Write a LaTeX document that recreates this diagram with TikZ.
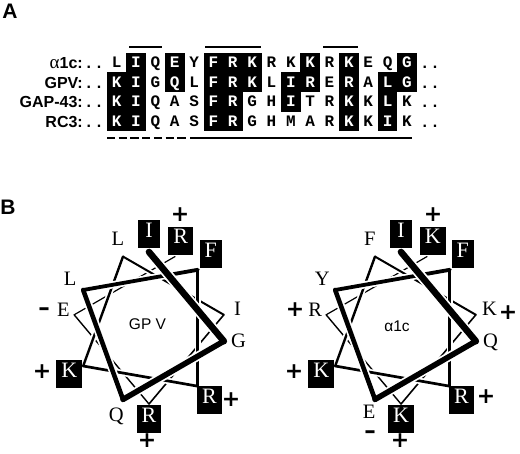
\documentclass[tikz,border=0pt]{standalone}
\usepackage{fontspec}
\setmainfont{Liberation Serif}
\setsansfont{Liberation Sans}
\setmonofont{Liberation Mono}
\newfontfamily\signfont{DejaVu Sans}
\usetikzlibrary{positioning}

\tikzset{helix/.style={line width=#1,line cap=round,
    preaction={draw=white,line width=#1+3.5pt,shorten <=6pt,shorten >=6pt}}}

\begin{document}
\begin{tikzpicture}[x=1pt,y=1pt]
\tikzstyle{panel}=[inner sep=0pt,font=\sffamily\bfseries\fontsize{21}{21}\selectfont]
\tikzstyle{seq}=[anchor=base east,inner sep=0pt,font=\sffamily\bfseries\fontsize{16}{17}\selectfont]
\tikzstyle{dots}=[anchor=base,inner sep=0pt,font=\sffamily\bfseries\fontsize{16}{16}\selectfont]
\tikzstyle{cell}=[minimum width=19.8pt,minimum height=19.8pt,inner sep=0pt,text height=10pt,text depth=0pt,font=\ttfamily\bfseries\fontsize{16}{16}\selectfont]
\tikzstyle{on}=[fill=black,text=white]
\tikzstyle{off}=[]
\tikzstyle{res}=[inner sep=0pt,text height=0.66em,text depth=0pt,font=\fontsize{20.5}{20.5}\selectfont]
\tikzstyle{resbox}=[fill=black,text=white,minimum width=22pt,minimum height=28pt,inner xsep=5pt,inner ysep=0pt,text height=0.66em,text depth=0pt,font=\fontsize{22}{22}\selectfont]
\tikzstyle{chg}=[inner sep=0pt,font=\signfont\bfseries\fontsize{22}{22}\selectfont]
\tikzstyle{neg}=[inner sep=0pt,font=\signfont\bfseries\fontsize{23}{23}\selectfont]
\tikzstyle{wname}=[font=\sffamily\fontsize{15.5}{15.5}\selectfont]
\useasboundingbox (0,0) rectangle (520,-454);

\node[panel] (pa) at (10,-11) {A};
\node[panel] (pb) at (8,-207.5) {B};

% sequence names
\node[seq] (n1) at (83,-69) {{\rmfamily\mdseries\fontsize{19}{19}\selectfont α}1c:};
\node[seq] (n2) at (83,-88.4) {GPV:};
\node[seq] (n3) at (83,-107.8) {GAP-43:};
\node[seq] (n4) at (83,-127.2) {RC3:};
\foreach \r/\y in {1/69,2/88.4,3/107.8,4/127.2} {
  \node[dots] (d\r) at (94,-\y) {. .};
  \node[dots] (e\r) at (430,-\y) {. .};
}

% alignment
\foreach \s/\t [count=\c] in {L/off,I/on,Q/off,E/on,Y/off,F/on,R/on,K/on,R/off,K/off,K/on,R/off,K/on,E/off,Q/off,G/on}
  \node[cell,\t] (r1c\c) at ({97.3+19.35*\c},-63) {\s};
\foreach \s/\t [count=\c] in {K/on,I/on,G/off,Q/on,L/off,F/on,R/on,K/on,L/off,I/on,R/on,E/off,R/on,A/off,L/on,G/on}
  \node[cell,\t] (r2c\c) at ({97.3+19.35*\c},-82.4) {\s};
\foreach \s/\t [count=\c] in {K/on,I/on,Q/off,A/off,S/off,F/on,R/on,G/off,H/off,I/on,T/off,R/off,K/on,K/off,L/on,K/off}
  \node[cell,\t] (r3c\c) at ({97.3+19.35*\c},-101.8) {\s};
\foreach \s/\t [count=\c] in {K/on,I/on,Q/off,A/off,S/off,F/on,R/on,G/off,H/off,M/off,A/off,R/off,K/on,K/off,I/on,K/off}
  \node[cell,\t] (r4c\c) at ({97.3+19.35*\c},-121.2) {\s};

% marks above and below
\draw[line width=1.6pt] (129,-47) -- (162,-47);
\draw[line width=1.6pt] (205,-47) -- (261,-47);
\draw[line width=1.6pt] (323,-47) -- (358,-47);
\draw[line width=1.6pt,dash pattern=on 8.3pt off 3.4pt] (107,-138) -- (187,-138);
\draw[line width=1.6pt] (190,-138) -- (412,-138);

% helical wheels
\coordinate (lc) at (149,-328);
\coordinate (rc) at (401,-328);
\foreach \k in {0,...,11} {
  \coordinate (lv\k) at ([shift={(90-100*\k:76)}]lc);
  \coordinate (rv\k) at ([shift={(90-100*\k:76)}]rc);
}
\foreach \k/\w in {10/1.2,9/1.4,8/1.6,7/2.0,6/2.4,5/2.7,4/3.0,3/3.8,2/4.6,1/5.6,0/6.6} {
  \pgfmathtruncatemacro\n{\k+1}
  \draw[helix=\w pt] (lv\k) -- (lv\n);
  \draw[helix=\w pt] (rv\k) -- (rv\n);
}

% GP V
\node[wname] (lname) at (147.5,-324) {GP V};
\node[resbox] (l0) at ([shift={(90:94)}]lc) {I};
\node[res] (l1) at ([shift={(-10:91)}]lc) {G};
\node[res] (l2) at ([shift={(-110:96)}]lc) {Q};
\node[res] (l3) at ([shift={(150:91)}]lc) {L};
\node[resbox] (l4) at ([shift={(50:96)}]lc) {F};
\node[resbox] (l5) at ([shift={(-50:94)}]lc) {R};
\node[resbox] (l6) at ([shift={(210:92)}]lc) {K};
\node[res] (l7) at ([shift={(110:91)}]lc) {L};
\node[res] (l8) at ([shift={(10:90)}]lc) {I};
\node[resbox] (l9) at ([shift={(-90:91)}]lc) {R};
\node[res] (l10) at ([shift={(170:87)}]lc) {E};
\node[resbox] (l11) at ([shift={(70:93)}]lc) {R};
\node[chg] (lp1) at (180,-215) {+};
\node[chg] (lp2) at (231,-400) {+};
\node[chg] (lp3) at (147,-441) {+};
\node[chg] (lp4) at (42,-372) {+};
\node[neg] (lm1) at (44,-312) {–};

% alpha1c
\node[wname] (rname) at (397,-326) {α1c};
\node[resbox] (r0) at ([shift={(90:94)}]rc) {I};
\node[res] (r1) at ([shift={(-10:91)}]rc) {Q};
\node[res] (r2) at ([shift={(-110:93)}]rc) {E};
\node[res] (r3) at ([shift={(150:91)}]rc) {Y};
\node[resbox] (r4) at ([shift={(50:96)}]rc) {F};
\node[resbox] (r5) at ([shift={(-50:94)}]rc) {R};
\node[resbox] (r6) at ([shift={(210:92)}]rc) {K};
\node[res] (r7) at ([shift={(110:91)}]rc) {F};
\node[res] (r8) at ([shift={(10:90)}]rc) {K};
\node[resbox] (r9) at ([shift={(-90:91)}]rc) {K};
\node[res] (r10) at ([shift={(170:87)}]rc) {R};
\node[resbox] (r11) at ([shift={(70:93)}]rc) {K};
\node[chg] (rp1) at (433,-215) {+};
\node[chg] (rp2) at (508,-313) {+};
\node[chg] (rp3) at (486,-397) {+};
\node[chg] (rp4) at (400,-441) {+};
\node[chg] (rp5) at (294,-372) {+};
\node[chg] (rp6) at (295,-310) {+};
\node[neg] (rm1) at (370,-435) {–};
\end{tikzpicture}
\end{document}
